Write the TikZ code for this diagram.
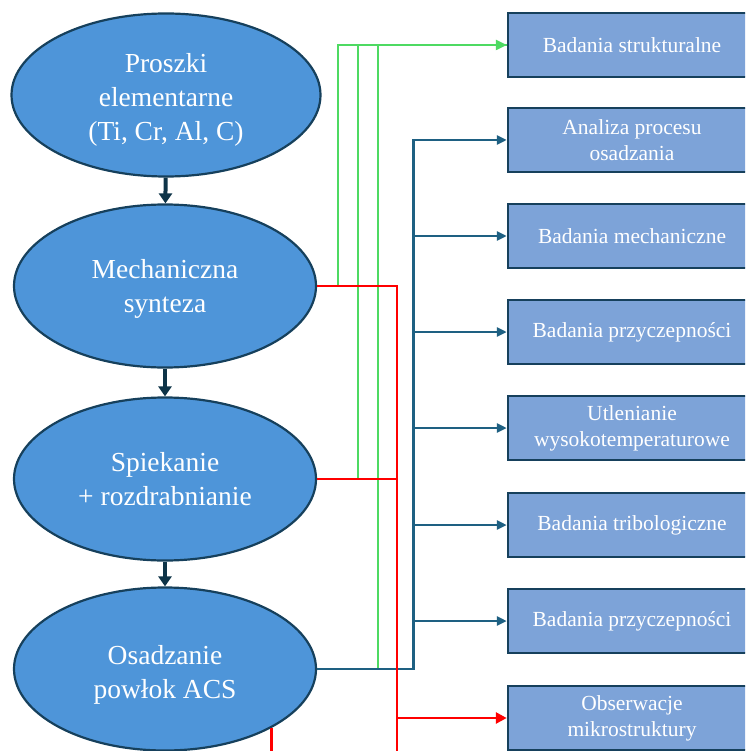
\documentclass[tikz,border=0pt]{standalone}
\usepackage{fontspec}
\setmainfont{Liberation Serif}
\usetikzlibrary{arrows.meta,shapes.geometric}

\definecolor{elipsa}{RGB}{78,149,217}
\definecolor{ramka}{RGB}{22,64,92}
\definecolor{prost}{RGB}{125,163,216}
\definecolor{strzalka}{RGB}{14,52,72}
\definecolor{linia}{RGB}{30,96,130}
\definecolor{zielony}{RGB}{78,218,98}

\begin{document}
\begin{tikzpicture}[x=1pt, y=-1pt,
    etap/.style={ellipse, draw=ramka, line width=2.2pt, fill=elipsa, text=white,
        minimum width=302pt, minimum height=163pt, inner sep=0pt, align=center,
        font=\fontsize{27.5}{34}\selectfont, text depth=0pt},
    badanie/.style={rectangle, draw=ramka, line width=2.5pt, fill=prost, text=white,
        minimum width=248pt, minimum height=64pt, inner sep=0pt, align=center,
        font=\fontsize{21.5}{26}\selectfont},
    krok/.style={strzalka, line width=4pt, -{Triangle[length=10pt,width=13pt]}},
    galaz/.style={linia, line width=2.8pt, -{Triangle[length=10pt,width=9pt]}},
    czer/.style={red, line width=2.8pt},
    ziel/.style={zielony, line width=2.4pt}]
    \useasboundingbox (0,0) rectangle (745,751);
    \clip (0,0) rectangle (745,751);

    % Etapy
    \node[etap, minimum width=309pt, text height=92pt] (proszki) at (166,95) {Proszki\\elementarne\\(Ti, Cr, Al, C)};
    \node[etap] (synteza) at (165,286) {Mechaniczna\\synteza};
    \node[etap] (spiekanie) at (165,479) {Spiekanie\\+ rozdrabnianie};
    \node[etap, text height=59pt] (osadzanie) at (165,669) {Osadzanie\\powłok ACS};

    % Badania
    \node[badanie] (struktura) at (632,45) {Badania strukturalne};
    \node[badanie] (proces) at (632,140) {Analiza procesu\\osadzania};
    \node[badanie] (mechanika) at (632,236) {Badania mechaniczne};
    \node[badanie] (adhezja) at (632,332) {Badania przyczepności};
    \node[badanie] (utlenianie) at (632,428) {Utlenianie\\wysokotemperaturowe};
    \node[badanie] (tribologia) at (632,525) {Badania tribologiczne};
    \node[badanie] (adhezja2) at (632,621) {Badania przyczepności};
    \node[badanie] (mikro) at (632,718) {Obserwacje\\mikrostruktury};

    \coordinate (dalej) at (397,760);
    \coordinate (wyjscie) at (272,760);

    \draw[krok] (proszki) -- (synteza);
    \draw[krok] (synteza) -- (spiekanie);
    \draw[krok] (spiekanie) -- (osadzanie);

    % Zielone
    \draw[ziel] (synteza.east) -- ++(21,0) |- (struktura.west);
    \draw[ziel] (spiekanie.east) -- ++(41,0) |- (struktura.west);
    \draw[ziel, -{Triangle[length=11pt,width=10pt]}] (osadzanie.east) -- ++(61,0) |- (struktura.west);

    % Niebieskie
    \foreach \b in {proces,mechanika,adhezja,utlenianie,tribologia,adhezja2}
        \draw[galaz] (osadzanie.east) -- ++(96,0) |- (\b.west);

    % Czerwone
    \draw[czer] (synteza.east) -| (dalej);
    \draw[czer] (spiekanie.east) -| (dalej);
    \draw[czer, -{Triangle[length=11pt,width=11pt]}] (dalej |- mikro.west) -- (mikro.west);
    \draw[czer] (osadzanie.-29) -- (osadzanie.-29 |- wyjscie);
\end{tikzpicture}
\end{document}
